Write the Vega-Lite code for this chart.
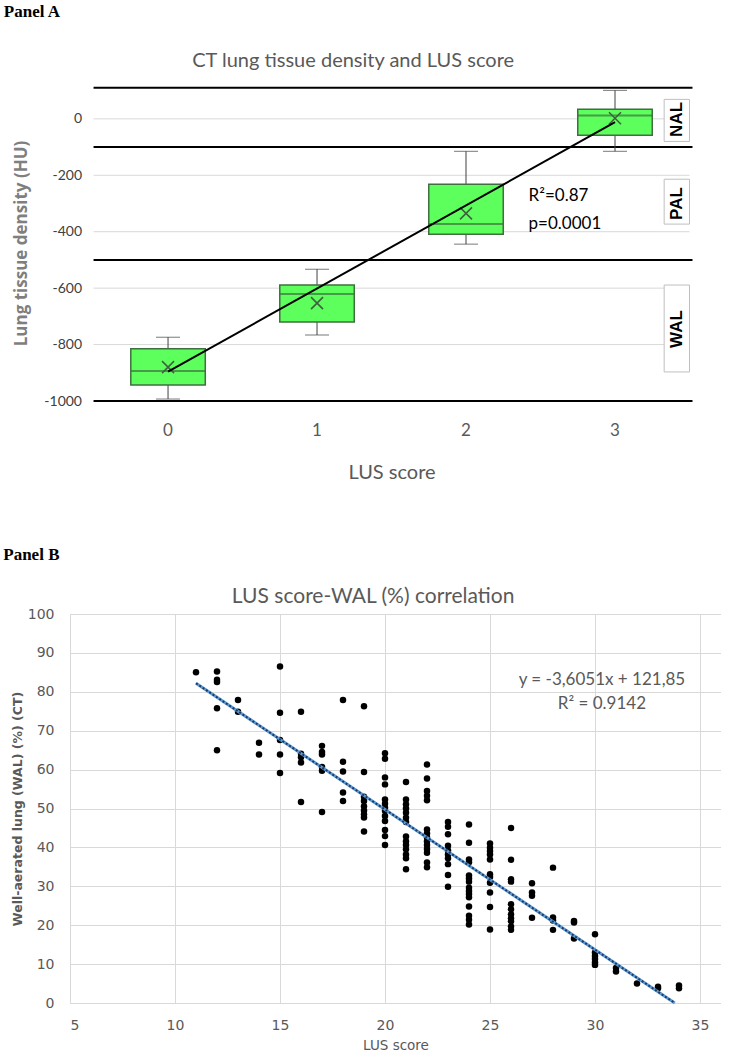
{
  "$schema": "https://vega.github.io/schema/vega-lite/v6.json",
  "background": "white",
  "padding": {"left": 3, "top": 3, "right": 0, "bottom": 0},
  "spacing": 64,
  "config": {"view": {"stroke": null}, "font": "Lato", "concat": {"spacing": 0}, "axis": {"labelOverlap": false}},
  "datasets": {
    "boxes": [
      {"cat": 0, "lo": -993, "q1": -943, "med": -894, "q3": -815, "hi": -774, "mean": -880},
      {"cat": 1, "lo": -766, "q1": -720, "med": -621, "q3": -589, "hi": -533, "mean": -653},
      {"cat": 2, "lo": -444, "q1": -409, "med": -373, "q3": -232, "hi": -115, "mean": -335},
      {"cat": 3, "lo": -115, "q1": -58, "med": 12, "q3": 34, "hi": 101, "mean": 2}
    ],
    "gridA": [{"y": 0}, {"y": -200}, {"y": -400}, {"y": -600}, {"y": -800}],
    "zones": [{"y": 110}, {"y": -100}, {"y": -500}, {"y": -1000}],
    "fitA": [{"cat": 0, "v": -896}, {"cat": 3, "v": -12}],
    "statsA": [{"cat": 2, "v": -274, "label": "R²=0.87"}, {"cat": 2, "v": -373, "label": "p=0.0001"}],
    "zoneLabels": [
      {"cat": 3, "top": 69, "bottom": -80, "mid": -2, "label": "NAL"},
      {"cat": 3, "top": -214, "bottom": -373, "mid": -300, "label": "PAL"},
      {"cat": 3, "top": -589, "bottom": -897, "mid": -745, "label": "WAL"}
    ],
    "scatter": [
      {"x": 11, "y": 85},
      {"x": 12, "y": 85.2}, {"x": 12, "y": 83.1}, {"x": 12, "y": 82.5}, {"x": 12, "y": 75.8}, {"x": 12, "y": 65},
      {"x": 13, "y": 77.9}, {"x": 13, "y": 74.9},
      {"x": 14, "y": 66.9}, {"x": 14, "y": 63.9},
      {"x": 15, "y": 86.5}, {"x": 15, "y": 74.6}, {"x": 15, "y": 67.6}, {"x": 15, "y": 63.9}, {"x": 15, "y": 59.1},
      {"x": 16, "y": 74.9}, {"x": 16, "y": 64.1}, {"x": 16, "y": 63.2}, {"x": 16, "y": 61.8}, {"x": 16, "y": 51.7},
      {"x": 17, "y": 66.1}, {"x": 17, "y": 64.5}, {"x": 17, "y": 63.9}, {"x": 17, "y": 60.7}, {"x": 17, "y": 59.7}, {"x": 17, "y": 49.1},
      {"x": 18, "y": 77.9}, {"x": 18, "y": 62}, {"x": 18, "y": 59.5}, {"x": 18, "y": 54.1}, {"x": 18, "y": 51.9},
      {"x": 19, "y": 76.3}, {"x": 19, "y": 59.4}, {"x": 19, "y": 53}, {"x": 19, "y": 51.9}, {"x": 19, "y": 50.6}, {"x": 19, "y": 49.5}, {"x": 19, "y": 48.5}, {"x": 19, "y": 47.7}, {"x": 19, "y": 44.1},
      {"x": 20, "y": 64.2}, {"x": 20, "y": 62.8}, {"x": 20, "y": 58}, {"x": 20, "y": 56.2}, {"x": 20, "y": 52.3}, {"x": 20, "y": 51.2}, {"x": 20, "y": 50.2}, {"x": 20, "y": 49.4}, {"x": 20, "y": 48.1}, {"x": 20, "y": 46.8}, {"x": 20, "y": 44.5}, {"x": 20, "y": 42.9}, {"x": 20, "y": 40.6},
      {"x": 21, "y": 56.8}, {"x": 21, "y": 52.3}, {"x": 21, "y": 51.1}, {"x": 21, "y": 50}, {"x": 21, "y": 48.9}, {"x": 21, "y": 47.6}, {"x": 21, "y": 46.5}, {"x": 21, "y": 42.8}, {"x": 21, "y": 41.6}, {"x": 21, "y": 40.6}, {"x": 21, "y": 39.5}, {"x": 21, "y": 38.2}, {"x": 21, "y": 37.2}, {"x": 21, "y": 34.4},
      {"x": 22, "y": 61.3}, {"x": 22, "y": 57.7}, {"x": 22, "y": 54.5}, {"x": 22, "y": 53.3}, {"x": 22, "y": 52.1}, {"x": 22, "y": 44.6}, {"x": 22, "y": 43.6}, {"x": 22, "y": 42.6}, {"x": 22, "y": 41.6}, {"x": 22, "y": 40.6}, {"x": 22, "y": 39.6}, {"x": 22, "y": 38.6}, {"x": 22, "y": 36.1}, {"x": 22, "y": 34.9},
      {"x": 23, "y": 46.5}, {"x": 23, "y": 45.3}, {"x": 23, "y": 43.4}, {"x": 23, "y": 40.4}, {"x": 23, "y": 39.2}, {"x": 23, "y": 38.2}, {"x": 23, "y": 37.2}, {"x": 23, "y": 35.7}, {"x": 23, "y": 32.9}, {"x": 23, "y": 29.9},
      {"x": 24, "y": 45.9}, {"x": 24, "y": 41.2}, {"x": 24, "y": 36.9}, {"x": 24, "y": 36.2}, {"x": 24, "y": 32.8}, {"x": 24, "y": 32}, {"x": 24, "y": 31.2}, {"x": 24, "y": 29.6}, {"x": 24, "y": 28.8}, {"x": 24, "y": 28}, {"x": 24, "y": 27.2}, {"x": 24, "y": 24.8}, {"x": 24, "y": 22.4}, {"x": 24, "y": 21.4}, {"x": 24, "y": 20.2},
      {"x": 25, "y": 41}, {"x": 25, "y": 39.9}, {"x": 25, "y": 39.1}, {"x": 25, "y": 38.2}, {"x": 25, "y": 36.9}, {"x": 25, "y": 33.1}, {"x": 25, "y": 32.4}, {"x": 25, "y": 30.9}, {"x": 25, "y": 28.4}, {"x": 25, "y": 24.7}, {"x": 25, "y": 18.9},
      {"x": 26, "y": 45}, {"x": 26, "y": 36.8}, {"x": 26, "y": 31.8}, {"x": 26, "y": 31.2}, {"x": 26, "y": 25.4}, {"x": 26, "y": 24.1}, {"x": 26, "y": 22.8}, {"x": 26, "y": 21.8}, {"x": 26, "y": 21}, {"x": 26, "y": 19.7}, {"x": 26, "y": 18.8},
      {"x": 27, "y": 30.8}, {"x": 27, "y": 28.4}, {"x": 27, "y": 27.6}, {"x": 27, "y": 21.9},
      {"x": 28, "y": 34.8}, {"x": 28, "y": 22}, {"x": 28, "y": 21.2}, {"x": 28, "y": 18.8},
      {"x": 29, "y": 21.1}, {"x": 29, "y": 20.7}, {"x": 29, "y": 16.6},
      {"x": 30, "y": 17.7}, {"x": 30, "y": 13}, {"x": 30, "y": 12.1}, {"x": 30, "y": 11.3}, {"x": 30, "y": 10.4}, {"x": 30, "y": 9.8},
      {"x": 31, "y": 9}, {"x": 31, "y": 8.1},
      {"x": 32, "y": 5},
      {"x": 33, "y": 4.2}, {"x": 33, "y": 3.8},
      {"x": 34, "y": 4.5}, {"x": 34, "y": 3.8}
    ],
    "trendB": [{"x": 11, "y": 82.19}, {"x": 33.8, "y": 0}],
    "eqB": [{"x": 30.33, "y": 83, "label": "y = -3,6051x + 121,85"}, {"x": 30.33, "y": 76.9, "label": "R² = 0.9142"}]
  },
  "vconcat": [
    {
      "title": {"text": "Panel A", "anchor": "start", "frame": "bounds", "font": "Liberation Serif", "fontSize": 17, "fontWeight": "bold", "color": "#000000", "dx": -9, "offset": 30},
      "vconcat": [
        {
          "title": {"text": "CT lung tissue density and LUS score", "font": "Lato", "fontSize": 20, "fontWeight": "normal", "color": "#595959", "anchor": "middle", "frame": "bounds", "offset": 14},
          "width": 619.5,
          "height": 316,
          "layer": [
            {
              "data": {"name": "gridA"},
              "mark": {"type": "rule", "color": "#d9d9d9", "strokeWidth": 1},
              "encoding": {
                "y": {"field": "y", "type": "quantitative",
                  "scale": {"domain": [-1000, 120], "nice": false, "zero": false},
                  "axis": {"title": "Lung tissue density (HU)", "values": [-1000, -800, -600, -400, -200, 0], "labelExpr": "datum.value + ''", "labelOverlap": false, "grid": false, "domain": false, "ticks": false, "offset": -23.5, "labelPadding": 12, "labelFontSize": 14, "labelFont": "Lato", "labelColor": "#404040", "titleFont": "Open Sans", "titleFontSize": 17, "titleFontWeight": "bold", "titleColor": "#7f7f7f", "titlePadding": 13}},
                "x": {"datum": 0, "type": "ordinal", "bandPosition": 0,
                  "scale": {"type": "band", "paddingInner": 0, "paddingOuter": 0.079, "align": 1},
                  "axis": {"title": "LUS score", "labelAngle": 0, "domain": false, "ticks": false, "labelPadding": 21, "labelFontSize": 17, "labelFont": "Lato", "labelColor": "#595959", "titleFont": "Lato", "titleFontSize": 20, "titleFontWeight": "normal", "titleColor": "#595959", "titlePadding": 24, "titleX": 321.5}},
                "x2": {"datum": 3, "bandPosition": 1}
              }
            },
            {
              "data": {"name": "zones"},
              "mark": {"type": "rule", "color": "#000000", "strokeWidth": 2},
              "encoding": {
                "y": {"field": "y", "type": "quantitative"},
                "x": {"datum": 0, "type": "ordinal", "bandPosition": 0},
                "x2": {"datum": 3, "bandPosition": 1.02}
              }
            },
            {
              "data": {"name": "boxes"},
              "mark": {"type": "rule", "color": "#404040", "strokeWidth": 1},
              "encoding": {
                "x": {"field": "cat", "type": "ordinal"},
                "y": {"field": "lo", "type": "quantitative"},
                "y2": {"field": "hi"}
              }
            },
            {
              "data": {"name": "boxes"},
              "mark": {"type": "tick", "color": "#404040", "size": 24, "thickness": 1},
              "encoding": {
                "x": {"field": "cat", "type": "ordinal"},
                "y": {"field": "lo", "type": "quantitative"}
              }
            },
            {
              "data": {"name": "boxes"},
              "mark": {"type": "tick", "color": "#404040", "size": 24, "thickness": 1},
              "encoding": {
                "x": {"field": "cat", "type": "ordinal"},
                "y": {"field": "hi", "type": "quantitative"}
              }
            },
            {
              "data": {"name": "boxes"},
              "mark": {"type": "bar", "fill": "#5CFF5C", "stroke": "#3F6F3F", "strokeWidth": 1.5, "width": {"band": 0.5}},
              "encoding": {
                "x": {"field": "cat", "type": "ordinal"},
                "y": {"field": "q1", "type": "quantitative"},
                "y2": {"field": "q3"}
              }
            },
            {
              "data": {"name": "boxes"},
              "mark": {"type": "tick", "color": "#3F6F3F", "size": 74, "thickness": 2},
              "encoding": {
                "x": {"field": "cat", "type": "ordinal"},
                "y": {"field": "med", "type": "quantitative"}
              }
            },
            {
              "data": {"name": "boxes"},
              "mark": {"type": "point", "shape": "M -1 -1 L 1 1 M -1 1 L 1 -1", "filled": false, "stroke": "#3F5F3F", "strokeWidth": 1.5, "size": 144, "opacity": 1},
              "encoding": {
                "x": {"field": "cat", "type": "ordinal"},
                "y": {"field": "mean", "type": "quantitative"}
              }
            },
            {
              "data": {"name": "fitA"},
              "mark": {"type": "line", "color": "#000000", "strokeWidth": 2},
              "encoding": {
                "x": {"field": "cat", "type": "ordinal"},
                "y": {"field": "v", "type": "quantitative"}
              }
            },
            {
              "data": {"name": "statsA"},
              "mark": {"type": "text", "align": "left", "baseline": "middle", "font": "Liberation Sans Narrow, Lato", "fontSize": 17, "color": "#000000"},
              "encoding": {
                "x": {"field": "cat", "type": "ordinal", "bandPosition": 0.92},
                "y": {"field": "v", "type": "quantitative"},
                "text": {"field": "label"}
              }
            },
            {
              "data": {"name": "zoneLabels"},
              "mark": {"type": "rect", "fill": "white", "stroke": "#bfbfbf", "strokeWidth": 1},
              "encoding": {
                "x": {"field": "cat", "type": "ordinal", "bandPosition": 0.83},
                "x2": {"field": "cat", "bandPosition": 1},
                "y": {"field": "top", "type": "quantitative"},
                "y2": {"field": "bottom"}
              }
            },
            {
              "data": {"name": "zoneLabels"},
              "mark": {"type": "text", "angle": 270, "align": "center", "baseline": "middle", "font": "Liberation Sans", "fontWeight": "bold", "fontSize": 17, "color": "#000000"},
              "encoding": {
                "x": {"field": "cat", "type": "ordinal", "bandPosition": 0.916},
                "y": {"field": "mid", "type": "quantitative"},
                "text": {"field": "label"}
              }
            }
          ]
        }
      ]
    },
    {
      "title": {"text": "Panel B", "anchor": "start", "frame": "bounds", "font": "Liberation Serif", "fontSize": 17, "fontWeight": "bold", "color": "#000000", "dx": -8, "offset": 22},
      "vconcat": [
        {
          "title": {"text": "LUS score-WAL (%) correlation", "font": "Lato", "fontSize": 21, "fontWeight": "normal", "color": "#595959", "anchor": "middle", "frame": "bounds", "dx": 7, "offset": 0},
          "width": 651,
          "height": 389,
          "encoding": {
            "x": {"field": "x", "type": "quantitative",
              "scale": {"domain": [5, 36], "nice": false, "zero": false},
              "axis": {"title": "LUS score", "values": [5, 10, 15, 20, 25, 30, 35], "labelOverlap": false, "grid": true, "gridColor": "#d9d9d9", "domainColor": "#d9d9d9", "ticks": false, "labelPadding": 15, "labelFont": "DejaVu Sans", "labelFontSize": 14, "labelColor": "#595959", "titleFont": "DejaVu Sans", "titleFontSize": 13.5, "titleFontWeight": "normal", "titleColor": "#595959", "titlePadding": 6}},
            "y": {"field": "y", "type": "quantitative",
              "scale": {"domain": [0, 100], "nice": false, "zero": false},
              "axis": {"title": "Well-aerated lung (WAL) (%) (CT)", "values": [0, 10, 20, 30, 40, 50, 60, 70, 80, 90, 100], "tickCount": 11, "labelOverlap": false, "grid": true, "gridColor": "#d9d9d9", "domainColor": "#d9d9d9", "ticks": false, "labelPadding": 16, "labelFont": "DejaVu Sans", "labelFontSize": 14, "labelColor": "#595959", "titleFont": "DejaVu Sans", "titleFontSize": 12.5, "titleFontWeight": "bold", "titleColor": "#595959", "titlePadding": 3}}
          },
          "layer": [
            {
              "data": {"name": "scatter"},
              "mark": {"type": "circle", "size": 42, "color": "#000000", "opacity": 1}
            },
            {
              "data": {"name": "trendB"},
              "mark": {"type": "line", "color": "#5B9BD5", "strokeWidth": 3}
            },
            {
              "data": {"name": "trendB"},
              "mark": {"type": "line", "color": "#1F3864", "strokeWidth": 2, "strokeDash": [2, 2]}
            },
            {
              "data": {"name": "eqB"},
              "mark": {"type": "text", "align": "center", "baseline": "middle", "font": "Lato", "fontSize": 17, "color": "#595959"},
              "encoding": {
                "text": {"field": "label"}
              }
            }
          ]
        }
      ]
    }
  ]
}
